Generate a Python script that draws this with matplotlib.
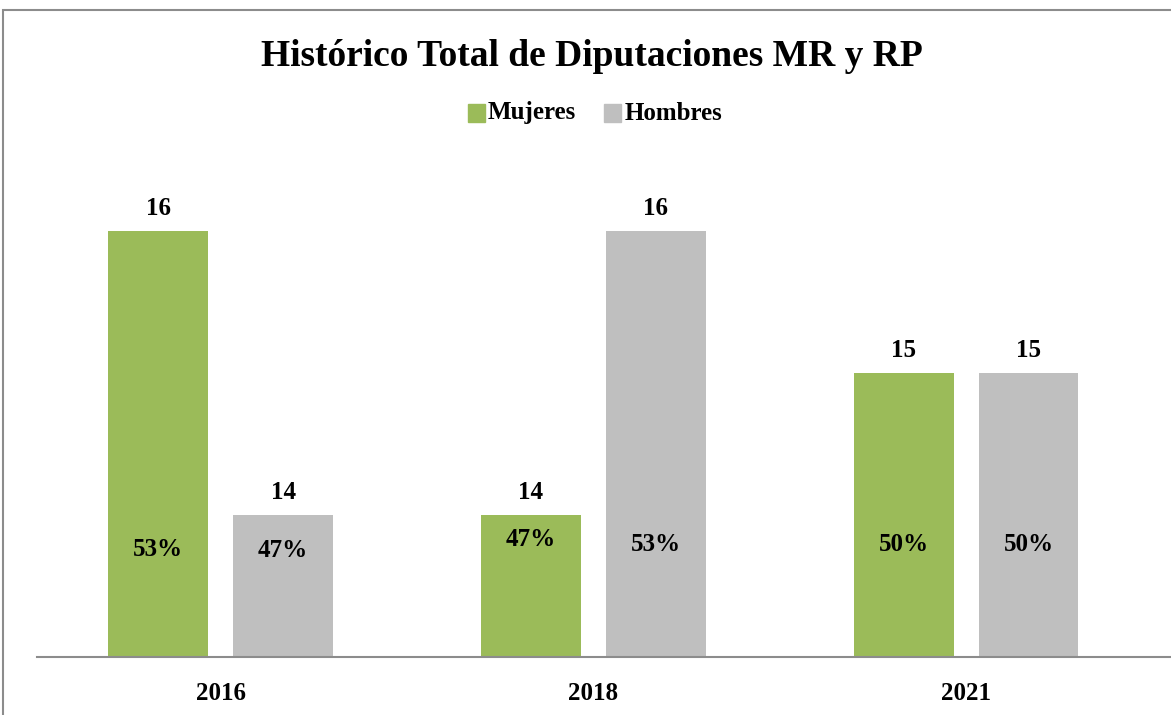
import matplotlib.pyplot as plt
from matplotlib.patches import Rectangle

years = ['2016', '2018', '2021']
mujeres = [16, 14, 15]
hombres = [14, 16, 15]
pct_mujeres = ['53%', '47%', '50%']
pct_hombres = ['47%', '53%', '50%']

GREEN = '#9BBB59'
GRAY = '#BFBFBF'
FONT = 'Liberation Serif'

fig = plt.figure(figsize=(11.71, 7.15), dpi=100)
W, H = 1171, 715

# chart border
fig.add_artist(Rectangle((3 / W, -0.01), 1.2, 1 - 10 / H + 0.01, transform=fig.transFigure,
                         fill=False, edgecolor='#8c8c8c', linewidth=1.5))

ax = fig.add_axes([37 / W, 1 - 657 / H, 1 - 37 / W, (657 - 89) / H])
x = range(len(years))
off = 0.1676
bw = 0.268
ax.bar([i - off for i in x], [v - 13 for v in mujeres], bw, bottom=13, color=GREEN)
ax.bar([i + off for i in x], [v - 13 for v in hombres], bw, bottom=13, color=GRAY)
ax.set_xlim(-0.493, 2.55)
ax.set_ylim(13, 17)

pct_y_m = [13.76, 13.83, 13.79]
pct_y_h = [13.75, 13.79, 13.79]
for i in x:
    ax.text(i - off, mujeres[i] + 0.08, str(mujeres[i]), ha='center', va='bottom',
            fontsize=18, fontweight='bold', family=FONT)
    ax.text(i + off, hombres[i] + 0.08, str(hombres[i]), ha='center', va='bottom',
            fontsize=18, fontweight='bold', family=FONT)
    ax.text(i - off, pct_y_m[i], pct_mujeres[i], ha='center', va='center',
            fontsize=18, fontweight='bold', family=FONT)
    ax.text(i + off, pct_y_h[i], pct_hombres[i], ha='center', va='center',
            fontsize=18, fontweight='bold', family=FONT)
    ax.text(i, 12.74, years[i], ha='center', va='center',
            fontsize=18, fontweight='bold', family=FONT)

for s in ['top', 'right', 'left']:
    ax.spines[s].set_visible(False)
ax.spines['bottom'].set_color('#8c8c8c')
ax.spines['bottom'].set_linewidth(1.5)
ax.set_xticks([])
ax.set_yticks([])

fig.text(592 / W, 1 - 56 / H, 'Histórico Total de Diputaciones MR y RP', ha='center', va='center',
         fontsize=27, fontweight='bold', family=FONT)

# legend
fig.add_artist(Rectangle((468 / W, 1 - 122 / H), 17 / W, 18 / H, transform=fig.transFigure, color=GREEN))
fig.text(488 / W, 1 - 113 / H, 'Mujeres', ha='left', va='center', fontsize=18, fontweight='bold', family=FONT)
fig.add_artist(Rectangle((604 / W, 1 - 122 / H), 17 / W, 18 / H, transform=fig.transFigure, color=GRAY))
fig.text(625 / W, 1 - 113 / H, 'Hombres', ha='left', va='center', fontsize=18, fontweight='bold', family=FONT)

fig.savefig('out.png', dpi=100)
